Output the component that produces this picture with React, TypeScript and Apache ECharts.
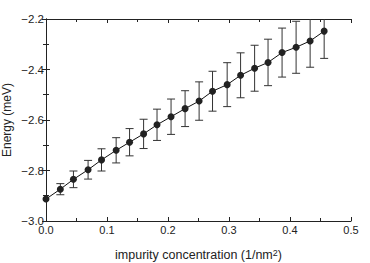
import React, { useEffect, useRef } from "react";
import * as echarts from "echarts";

const concentration = [0, 0.0235, 0.045, 0.069, 0.091, 0.115, 0.137, 0.16, 0.182, 0.205, 0.228, 0.251, 0.273, 0.297, 0.319, 0.342, 0.364, 0.387, 0.41, 0.433, 0.456];
const energy = [-2.913, -2.874, -2.835, -2.797, -2.758, -2.72, -2.688, -2.655, -2.619, -2.587, -2.555, -2.525, -2.486, -2.46, -2.423, -2.395, -2.372, -2.333, -2.312, -2.287, -2.248];
const errors = [0, 0.022, 0.033, 0.037, 0.044, 0.05, 0.054, 0.058, 0.062, 0.07, 0.071, 0.076, 0.079, 0.087, 0.089, 0.091, 0.092, 0.097, 0.103, 0.104, 0.108];

const FONT = "'Liberation Sans', Arial, sans-serif";
const AXIS_COLOR = "#222";

export default function App() {
  const ref = useRef<HTMLDivElement>(null);
  useEffect(() => {
    if (!ref.current) return;
    const chart = echarts.init(ref.current, undefined, { renderer: "svg" });
    const lineData = concentration.map((x, i) => [x, energy[i]]);
    const errData = concentration.map((x, i) => [x, energy[i], errors[i]]);
    const fmt = (v: number) => v.toFixed(1).replace("-", "\u2212");
    const commonAxis = {
      axisLine: { show: true, lineStyle: { color: AXIS_COLOR, width: 1 } },
      axisTick: { show: true, inside: true, length: 4, lineStyle: { color: AXIS_COLOR } },
      minorTick: { show: true, splitNumber: 2, length: 3, lineStyle: { color: AXIS_COLOR } },
      splitLine: { show: false },
      minorSplitLine: { show: false },
    };
    chart.setOption({
      animation: false,
      grid: { left: 46, right: 19, top: 19, bottom: 42, containLabel: false, outerBoundsMode: "none" },
      xAxis: [
        {
          type: "value",
          min: 0,
          max: 0.5,
          interval: 0.1,
          ...commonAxis,
          axisLabel: { color: AXIS_COLOR, fontSize: 11, fontFamily: FONT, margin: 3, formatter: fmt, hideOverlap: false },
          name: "impurity concentration (1/nm{sup|2})",
          nameLocation: "middle",
          nameGap: 27,
          nameMoveOverlap: false,
          nameTextStyle: {
            color: AXIS_COLOR,
            fontSize: 12.5,
            fontFamily: FONT,
            rich: { sup: { fontSize: 9, verticalAlign: "top", lineHeight: 9, padding: [0, 0, 7, 0], fontFamily: FONT, color: AXIS_COLOR } },
          },
        },
        {
          type: "value",
          position: "top",
          min: 0,
          max: 0.5,
          interval: 0.1,
          ...commonAxis,
          axisLabel: { show: false },
        },
      ],
      yAxis: [
        {
          type: "value",
          min: -3.0,
          max: -2.2,
          interval: 0.2,
          ...commonAxis,
          axisLabel: { color: AXIS_COLOR, fontSize: 11.5, fontFamily: FONT, margin: 2, formatter: fmt, hideOverlap: false },
          name: "Energy (meV)",
          nameLocation: "middle",
          nameGap: 33,
          nameMoveOverlap: false,
          nameTextStyle: { color: AXIS_COLOR, fontSize: 12, fontFamily: FONT },
        },
        {
          type: "value",
          position: "right",
          min: -3.0,
          max: -2.2,
          interval: 0.2,
          ...commonAxis,
          axisLabel: { show: false },
        },
      ],
      series: [
        {
          type: "custom",
          clip: true,
          z: 1,
          data: errData,
          renderItem: (params: any, api: any) => {
            const x = api.value(0);
            const y = api.value(1);
            const e = api.value(2);
            if (!e) return { type: "group", children: [] };
            const top = api.coord([x, y + e]);
            const bot = api.coord([x, y - e]);
            const half = 4;
            const style = { stroke: "#333", lineWidth: 1 };
            return {
              type: "group",
              children: [
                { type: "line", shape: { x1: top[0], y1: top[1], x2: bot[0], y2: bot[1] }, style },
                { type: "line", shape: { x1: top[0] - half, y1: top[1], x2: top[0] + half, y2: top[1] }, style },
                { type: "line", shape: { x1: bot[0] - half, y1: bot[1], x2: bot[0] + half, y2: bot[1] }, style },
              ],
            };
          },
        },
        {
          type: "line",
          z: 3,
          data: lineData,
          symbol: "circle",
          symbolSize: 7,
          itemStyle: { color: "#222" },
          lineStyle: { color: "#111", width: 1 },
        },
      ],
    });
    return () => chart.dispose();
  }, []);
  return (
    <div
      ref={ref}
      style={{ position: "fixed", left: 0, top: 0, width: 370, height: 263, background: "#fff" }}
    />
  );
}
